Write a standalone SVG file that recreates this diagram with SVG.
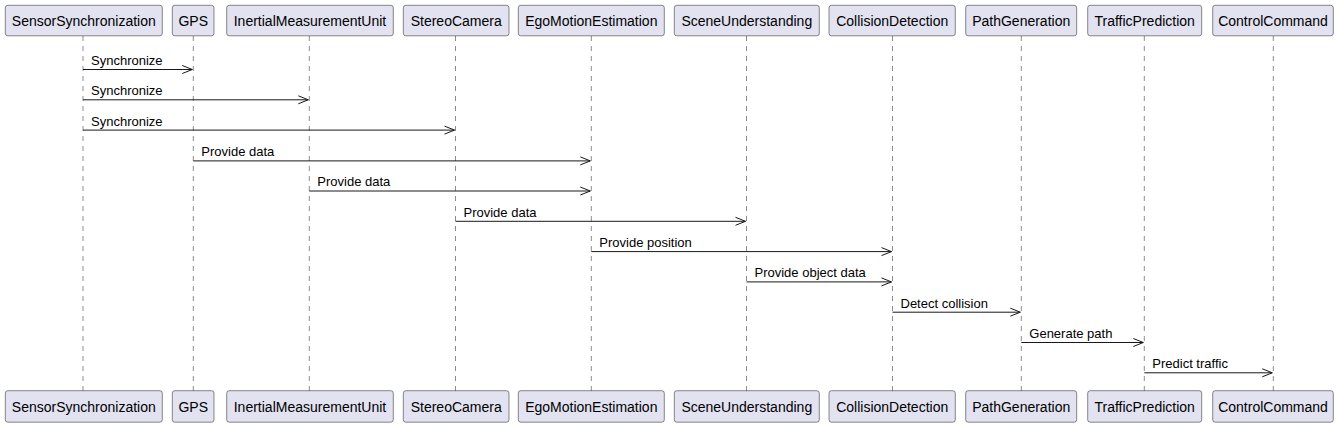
<svg xmlns="http://www.w3.org/2000/svg" width="1341" height="427" viewBox="0 0 1341 427">
<style>
.box{fill:#E2E2F0;stroke:#181818;stroke-width:0.5}
.pt{font-family:"Liberation Sans",Arial,sans-serif;font-size:14px;fill:#000;text-anchor:middle}
.life{stroke:#181818;stroke-width:0.5;stroke-dasharray:5,5;fill:none}
.msg{stroke:#181818;stroke-width:1;fill:none}
.ml{font-family:"Liberation Sans",Arial,sans-serif;font-size:13px;fill:#000}
</style>
<rect width="1341" height="427" fill="#FFFFFF"/>
<g id="lifelines">
<line class="life" x1="83" y1="36" x2="83" y2="391"/>
<line class="life" x1="193.3" y1="36" x2="193.3" y2="391"/>
<line class="life" x1="309.3" y1="36" x2="309.3" y2="391"/>
<line class="life" x1="455.5" y1="36" x2="455.5" y2="391"/>
<line class="life" x1="591.3" y1="36" x2="591.3" y2="391"/>
<line class="life" x1="746.5" y1="36" x2="746.5" y2="391"/>
<line class="life" x1="892.5" y1="36" x2="892.5" y2="391"/>
<line class="life" x1="1021.3" y1="36" x2="1021.3" y2="391"/>
<line class="life" x1="1144.3" y1="36" x2="1144.3" y2="391"/>
<line class="life" x1="1273.3" y1="36" x2="1273.3" y2="391"/>
</g>
<g id="SensorSynchronization">
<rect class="box" x="5.3" y="5.3" width="157" height="30.5" rx="2.5"/>
<text class="pt" x="83.8" y="25.5">SensorSynchronization</text>
<rect class="box" x="5.3" y="390.7" width="157" height="31.5" rx="2.5"/>
<text class="pt" x="83.8" y="411.5">SensorSynchronization</text>
</g>
<g id="GPS">
<rect class="box" x="172.3" y="5.3" width="41.7" height="30.5" rx="2.5"/>
<text class="pt" x="193.2" y="25.5">GPS</text>
<rect class="box" x="172.3" y="390.7" width="41.7" height="31.5" rx="2.5"/>
<text class="pt" x="193.2" y="411.5">GPS</text>
</g>
<g id="InertialMeasurementUnit">
<rect class="box" x="226.7" y="5.3" width="166.6" height="30.5" rx="2.5"/>
<text class="pt" x="310" y="25.5">InertialMeasurementUnit</text>
<rect class="box" x="226.7" y="390.7" width="166.6" height="31.5" rx="2.5"/>
<text class="pt" x="310" y="411.5">InertialMeasurementUnit</text>
</g>
<g id="StereoCamera">
<rect class="box" x="403.3" y="5.3" width="105.7" height="30.5" rx="2.5"/>
<text class="pt" x="456.2" y="25.5">StereoCamera</text>
<rect class="box" x="403.3" y="390.7" width="105.7" height="31.5" rx="2.5"/>
<text class="pt" x="456.2" y="411.5">StereoCamera</text>
</g>
<g id="EgoMotionEstimation">
<rect class="box" x="518.3" y="5.3" width="146" height="30.5" rx="2.5"/>
<text class="pt" x="591.3" y="25.5">EgoMotionEstimation</text>
<rect class="box" x="518.3" y="390.7" width="146" height="31.5" rx="2.5"/>
<text class="pt" x="591.3" y="411.5">EgoMotionEstimation</text>
</g>
<g id="SceneUnderstanding">
<rect class="box" x="674.3" y="5.3" width="145" height="30.5" rx="2.5"/>
<text class="pt" x="746.8" y="25.5">SceneUnderstanding</text>
<rect class="box" x="674.3" y="390.7" width="145" height="31.5" rx="2.5"/>
<text class="pt" x="746.8" y="411.5">SceneUnderstanding</text>
</g>
<g id="CollisionDetection">
<rect class="box" x="829" y="5.3" width="126.3" height="30.5" rx="2.5"/>
<text class="pt" x="892.2" y="25.5">CollisionDetection</text>
<rect class="box" x="829" y="390.7" width="126.3" height="31.5" rx="2.5"/>
<text class="pt" x="892.2" y="411.5">CollisionDetection</text>
</g>
<g id="PathGeneration">
<rect class="box" x="965.7" y="5.3" width="111" height="30.5" rx="2.5"/>
<text class="pt" x="1021.2" y="25.5">PathGeneration</text>
<rect class="box" x="965.7" y="390.7" width="111" height="31.5" rx="2.5"/>
<text class="pt" x="1021.2" y="411.5">PathGeneration</text>
</g>
<g id="TrafficPrediction">
<rect class="box" x="1087.7" y="5.3" width="114" height="30.5" rx="2.5"/>
<text class="pt" x="1144.7" y="25.5">TrafficPrediction</text>
<rect class="box" x="1087.7" y="390.7" width="114" height="31.5" rx="2.5"/>
<text class="pt" x="1144.7" y="411.5">TrafficPrediction</text>
</g>
<g id="ControlCommand">
<rect class="box" x="1212.7" y="5.3" width="120.6" height="30.5" rx="2.5"/>
<text class="pt" x="1273" y="25.5">ControlCommand</text>
<rect class="box" x="1212.7" y="390.7" width="120.6" height="31.5" rx="2.5"/>
<text class="pt" x="1273" y="411.5">ControlCommand</text>
</g>
<g id="connectors">
<path class="msg" d="M83,69.5 H192.3 M182.3,65.5 L192.3,69.5 L182.3,73.5"/>
<text class="ml" x="91" y="65">Synchronize</text>
<path class="msg" d="M83,99.8 H308.3 M298.3,95.8 L308.3,99.8 L298.3,103.8"/>
<text class="ml" x="91" y="95.3">Synchronize</text>
<path class="msg" d="M83,130.1 H454.5 M444.5,126.1 L454.5,130.1 L444.5,134.1"/>
<text class="ml" x="91" y="125.6">Synchronize</text>
<path class="msg" d="M193.3,160.9 H590.3 M580.3,156.9 L590.3,160.9 L580.3,164.9"/>
<text class="ml" x="201.3" y="156">Provide data</text>
<path class="msg" d="M309.3,191 H590.3 M580.3,187 L590.3,191 L580.3,195"/>
<text class="ml" x="317.3" y="186.3">Provide data</text>
<path class="msg" d="M455.5,221.3 H745.5 M735.5,217.3 L745.5,221.3 L735.5,225.3"/>
<text class="ml" x="463.5" y="216.6">Provide data</text>
<path class="msg" d="M591.3,251.6 H891.5 M881.5,247.6 L891.5,251.6 L881.5,255.6"/>
<text class="ml" x="599.3" y="246.9">Provide position</text>
<path class="msg" d="M746.5,281.9 H891.5 M881.5,277.9 L891.5,281.9 L881.5,285.9"/>
<text class="ml" x="754.5" y="277.2">Provide object data</text>
<path class="msg" d="M892.5,312.2 H1020.3 M1010.3,308.2 L1020.3,312.2 L1010.3,316.2"/>
<text class="ml" x="900.5" y="307.5">Detect collision</text>
<path class="msg" d="M1021.3,342.5 H1143.3 M1133.3,338.5 L1143.3,342.5 L1133.3,346.5"/>
<text class="ml" x="1029.3" y="337.8">Generate path</text>
<path class="msg" d="M1144.3,372.8 H1272.3 M1262.3,368.8 L1272.3,372.8 L1262.3,376.8"/>
<text class="ml" x="1152.3" y="368.1">Predict traffic</text>
</g>
</svg>
